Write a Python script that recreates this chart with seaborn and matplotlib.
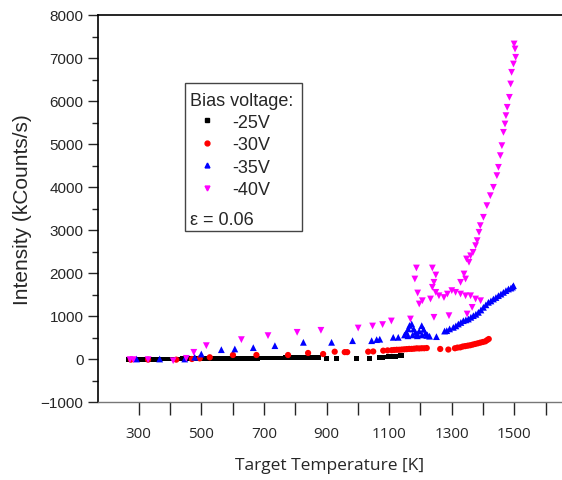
import numpy as np
import pandas as pd
import matplotlib
matplotlib.use('Agg')
import matplotlib.pyplot as plt
import seaborn as sns
from matplotlib.patches import Rectangle
from matplotlib.ticker import MultipleLocator, FixedLocator

# -25V
t25 = [268, 280, 292, 305, 318, 330, 345, 360, 372, 385, 398, 410, 425, 440, 452, 465,
       478, 490, 505, 520, 535, 548, 560, 575, 590, 605, 620, 635, 650, 665, 680, 695,
       710, 725, 740, 755, 770, 785, 800, 815, 830, 845, 860, 875, 899, 931, 995, 1037,
       1069, 1080, 1088, 1096, 1104, 1112, 1120, 1128, 1136, 1140]
i25 = [-15, -15, -10, -10, -10, -5, -5, -5, 0, 0, 0, 0, 0, 5, 5, 5,
       5, 10, 10, 10, 10, 15, 15, 15, 15, 15, 20, 20, 20, 20, 20, 25,
       25, 25, 25, 25, 30, 30, 30, 30, 35, 35, 35, 40, 20, 15, 15, 15,
       35, 40, 45, 50, 55, 60, 65, 70, 75, 80]

# -30V
t30 = [275, 330, 420, 470, 495, 527, 601, 676, 777, 841, 889, 926, 958, 966, 1033, 1049,
       1081, 1095, 1108, 1116, 1124, 1132, 1140, 1148, 1156, 1164, 1172, 1180, 1188, 1196,
       1204, 1212, 1220, 1263, 1289, 1310, 1318, 1327, 1335, 1343, 1351, 1359, 1367, 1375,
       1383, 1391, 1399, 1407, 1413, 1418]
i30 = [-15, -15, -15, 0, 15, 40, 93, 93, 93, 140, 116, 170, 160, 160, 170, 175,
       194, 200, 205, 210, 215, 215, 220, 225, 230, 235, 235, 240, 248, 245,
       250, 250, 255, 233, 220, 250, 265, 271, 290, 300, 310, 320, 335, 350,
       365, 380, 395, 410, 440, 465]

# -35V
t35 = [293, 367, 447, 479, 500, 564, 607, 666, 735, 826, 916, 983, 1044, 1060, 1070, 1113,
       1129, 1149, 1155, 1161, 1165, 1172, 1178, 1184, 1190, 1196, 1204, 1210, 1216, 1222,
       1229, 1160, 1175, 1190, 1205, 1220, 1251, 1277, 1284, 1293, 1305, 1313, 1321, 1329,
       1337, 1345, 1353, 1361, 1369, 1377, 1385, 1393, 1401, 1409, 1417, 1425, 1433, 1441,
       1449, 1457, 1465, 1473, 1481, 1489, 1494, 1497]
i35 = [0, 0, 0, 40, 116, 217, 233, 264, 310, 388, 388, 426, 426, 450, 460, 504,
       504, 560, 620, 700, 780, 814, 700, 620, 580, 650, 775, 690, 600, 560,
       530, 540, 560, 540, 560, 550, 520, 650, 659, 700, 736, 770, 814, 850,
       891, 910, 930, 970, 1008, 1040, 1085, 1140, 1202, 1260, 1318, 1350, 1395, 1430,
       1473, 1510, 1550, 1590, 1628, 1650, 1674, 1705]

# -40V
t40 = [272, 283, 330, 410, 452, 476, 516, 628, 713, 806, 882, 1001, 1047, 1079, 1107, 1168,
       1182, 1187, 1191, 1196, 1206, 1232, 1238, 1238, 1243, 1243, 1249, 1249, 1259, 1275,
       1286, 1291, 1300, 1312, 1328, 1328, 1339, 1344, 1344, 1349, 1360, 1365, 1376, 1392,
       1347, 1355, 1360, 1368, 1376, 1381, 1387, 1391, 1401, 1412, 1423, 1433, 1444, 1449,
       1455, 1460, 1465, 1470, 1473, 1477, 1484, 1488, 1491, 1497, 1504, 1502, 1499]
i40 = [-15, -15, -15, -40, 15, 155, 310, 450, 543, 620, 667, 720, 767, 800, 884, 930,
       1860, 2116, 1535, 1279, 1355, 1395, 2116, 1667, 1783, 969, 1953, 1550, 1470, 1430,
       1510, 1007, 1590, 1550, 1510, 1783, 1977, 1860, 1470, 1046, 1470, 1200, 1395, 1355,
       2326, 2250, 2400, 2480, 2636, 2752, 2946, 3101, 3295, 3566, 3798, 3992, 4264, 4457,
       4729, 4961, 5271, 5465, 5659, 5853, 6085, 6395, 6667, 6860, 7016, 7209, 7326]

labels = ['-25V', '-30V', '-35V', '-40V']
colors = ['black', '#ff0000', '#0000ff', '#ff00ff']
markers = ['s', 'o', '^', 'v']
msizes = [12, 20, 24, 24]

df = pd.concat([
    pd.DataFrame({'T': t, 'I': i, 'Bias': lab})
    for t, i, lab in zip([t25, t30, t35, t40], [i25, i30, i35, i40], labels)
])

sns.set_style('white')
plt.rcParams['font.family'] = ['Liberation Sans', 'DejaVu Sans']

fig = plt.figure(figsize=(5.62, 4.81), dpi=100)
ax = fig.add_axes([98 / 562, 78 / 481, 464 / 562, 387 / 481])

sns.scatterplot(data=df, x='T', y='I', hue='Bias', style='Bias', size='Bias',
                palette=dict(zip(labels, colors)), markers=dict(zip(labels, markers)),
                sizes=dict(zip(labels, msizes)), linewidth=0, ax=ax, legend=False)

ax.set_xlim(170, 1652)
ax.set_ylim(-1000, 8000)

ax.xaxis.set_major_locator(FixedLocator(np.arange(300, 1700, 100)))
ax.set_xticklabels([str(v) if v % 200 == 100 else '' for v in range(300, 1700, 100)],
                   fontfamily='Open Sans', fontsize=11)
ax.yaxis.set_major_locator(MultipleLocator(1000))
ax.yaxis.set_minor_locator(MultipleLocator(500))
ax.tick_params(axis='y', which='major', direction='out', length=7, width=1, labelsize=11, left=True)
ax.tick_params(axis='y', which='minor', direction='out', length=4, width=1, left=True)
ax.tick_params(axis='x', which='major', direction='out', length=9, width=1, pad=8, bottom=True)

for sp in ['left', 'top']:
    ax.spines[sp].set_color('black')
    ax.spines[sp].set_linewidth(1.2)
ax.spines['bottom'].set_color('#777777')
ax.spines['bottom'].set_linewidth(1)
ax.spines['right'].set_visible(False)

ax.set_xlabel('Target Temperature [K]', fontfamily='Open Sans', fontsize=12.5, labelpad=12)
ax.set_ylabel('Intensity (kCounts/s)', fontsize=15, labelpad=6)

# legend box
ax.add_patch(Rectangle((0.1875, 0.442), 0.2525, 0.382, transform=ax.transAxes,
                       fill=False, edgecolor='#444444', linewidth=1, zorder=5))
ax.text(0.198, 0.80, 'Bias voltage:', transform=ax.transAxes, fontsize=13, va='top')
handles = [plt.Line2D([], [], linestyle='none', marker=m, color=c, markersize=3.5)
           for m, c in zip(markers, colors)]
ax.legend(handles, labels, loc='upper left', bbox_to_anchor=(0.215, 0.745), frameon=False,
          fontsize=13, handlelength=1, handletextpad=0.9, labelspacing=0.3,
          borderaxespad=0, borderpad=0)
ax.text(0.198, 0.45, 'ε = 0.06', transform=ax.transAxes, fontsize=13, va='bottom')

fig.savefig('out.png', dpi=100)
